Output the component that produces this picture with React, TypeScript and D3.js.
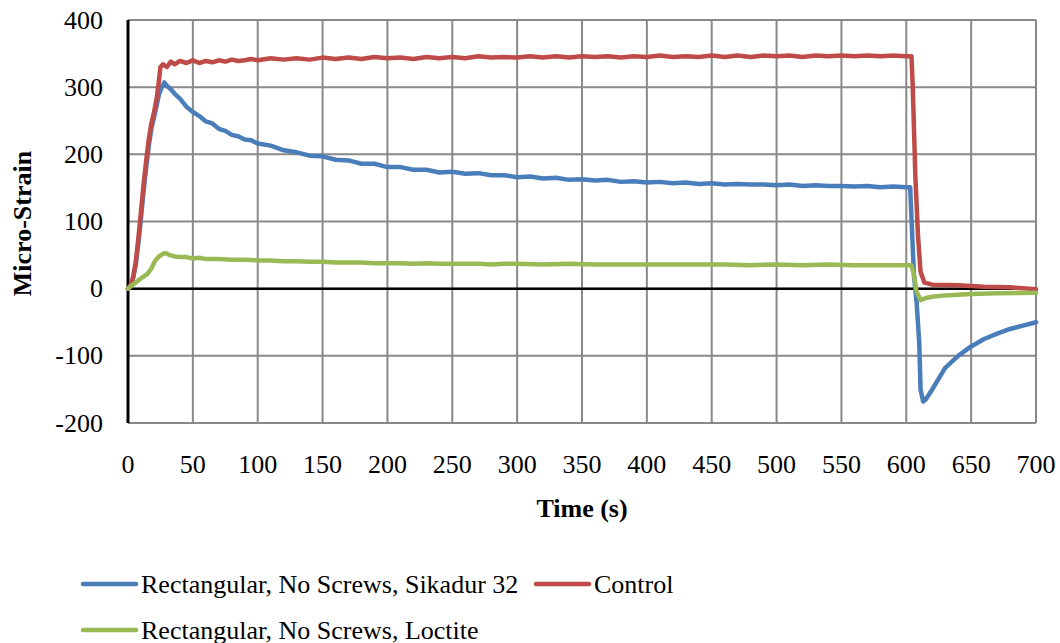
import React, { useEffect, useRef } from 'react';
import * as d3 from 'd3';

// [time (s), micro-strain]
const sikadur: [number, number][] = [
  [0, 0], [2, 4], [4, 16], [6, 36], [8, 68], [10, 105], [12, 145], [14, 180], [16, 212], [18, 238],
  [20, 255], [22, 272], [24, 290], [26, 300], [28, 307], [30, 302], [33, 297], [36, 290], [40, 283],
  [45, 271], [50, 263], [55, 257], [60, 249], [65, 246], [70, 238], [75, 235], [80, 229], [85, 227],
  [90, 222], [95, 221], [100, 216], [110, 213], [120, 206], [130, 203], [140, 198], [150, 197],
  [160, 192], [170, 191], [180, 186], [190, 186], [200, 181], [210, 181], [220, 177], [230, 177],
  [240, 173], [250, 174], [260, 171], [270, 172], [280, 169], [290, 169], [300, 166], [310, 167],
  [320, 164], [330, 165], [340, 162], [350, 163], [360, 161], [370, 162], [380, 159], [390, 160],
  [400, 158], [410, 159], [420, 157], [430, 158], [440, 156], [450, 157], [460, 155], [470, 156],
  [480, 155], [490, 155], [500, 154], [510, 155], [520, 153], [530, 154], [540, 153], [550, 153],
  [560, 152], [570, 153], [580, 151], [590, 152], [600, 151], [603, 151], [605, 60], [606, 18],
  [608, -21], [610, -81], [611, -150], [613, -168], [615, -165], [620, -150], [625, -134],
  [630, -118], [640, -100], [650, -86], [660, -75], [670, -67], [680, -60], [690, -55], [700, -50],
];

const control: [number, number][] = [
  [0, 0], [2, 5], [4, 18], [6, 40], [8, 75], [10, 115], [12, 155], [14, 190], [16, 222], [18, 246],
  [20, 262], [22, 282], [24, 312], [25, 330], [27, 334], [30, 330], [33, 338], [36, 334], [40, 339],
  [45, 336], [50, 340], [55, 336], [60, 339], [65, 337], [70, 340], [75, 338], [80, 341], [85, 339],
  [90, 340], [95, 342], [100, 340], [110, 343], [120, 341], [130, 343], [140, 341], [150, 344],
  [160, 342], [170, 344], [180, 342], [190, 345], [200, 343], [210, 344], [220, 342], [230, 345],
  [240, 343], [250, 345], [260, 343], [270, 346], [280, 344], [290, 345], [300, 344], [310, 346],
  [320, 344], [330, 346], [340, 344], [350, 346], [360, 345], [370, 346], [380, 344], [390, 346],
  [400, 345], [410, 347], [420, 345], [430, 346], [440, 345], [450, 347], [460, 345], [470, 347],
  [480, 345], [490, 347], [500, 346], [510, 347], [520, 345], [530, 347], [540, 346], [550, 347],
  [560, 346], [570, 347], [580, 346], [590, 347], [600, 346], [604, 346], [605, 300], [607, 167],
  [609, 80], [611, 25], [614, 9], [620, 6], [640, 5], [660, 3], [680, 2], [700, -1],
];

const loctite: [number, number][] = [
  [0, 0], [3, 5], [6, 9], [9, 14], [12, 18], [15, 22], [18, 30], [21, 42], [24, 48], [27, 52],
  [29, 53], [32, 50], [36, 48], [40, 47], [45, 47], [50, 45], [55, 46], [60, 44], [70, 44], [80, 43],
  [90, 43], [100, 42], [110, 42], [120, 41], [130, 41], [140, 40], [150, 40], [160, 39], [170, 39],
  [180, 39], [190, 38], [200, 38], [210, 38], [220, 37], [230, 38], [240, 37], [250, 37], [260, 37],
  [270, 37], [280, 36], [290, 37], [300, 37], [320, 36], [340, 37], [360, 36], [380, 36], [400, 36],
  [420, 36], [440, 36], [460, 36], [480, 35], [500, 36], [520, 35], [540, 36], [560, 35], [580, 35],
  [600, 35], [604, 35], [606, 20], [608, -5], [611, -17], [615, -14], [620, -12], [630, -10],
  [650, -8], [670, -7], [700, -6],
];

const seriesNames = ['Rectangular, No Screws, Sikadur 32', 'Control', 'Rectangular, No Screws, Loctite'];
const seriesColors = ['#4a7ebb', '#be4b48', '#98b954'];
const xTicks = d3.range(0, 701, 50);
const yTicks = [-200, -100, 0, 100, 200, 300, 400];

const App = () => {
  const svgRef = useRef(null);

  useEffect(() => {
    const width = 1060;
    const height = 643;
    const margin = { top: 20, right: 24, bottom: 220, left: 128 };
    const innerW = width - margin.left - margin.right;
    const innerH = height - margin.top - margin.bottom;

    const svgEl = d3.select(svgRef.current);
    svgEl.selectAll('*').remove();
    svgEl.attr('width', width).attr('height', height).style('background', '#fff');

    const svg = svgEl.append('g').attr('transform', `translate(${margin.left},${margin.top})`);

    const x = d3.scaleLinear().domain([0, 700]).range([0, innerW]);
    const y = d3.scaleLinear().domain([-200, 400]).range([innerH, 0]);

    // grid
    svg.selectAll('.vgrid')
      .data(xTicks.slice(1))
      .join('line')
      .attr('x1', d => x(d)).attr('x2', d => x(d))
      .attr('y1', 0).attr('y2', innerH)
      .attr('stroke', '#898989').attr('stroke-width', 2);

    svg.selectAll('.hgrid')
      .data(yTicks)
      .join('line')
      .attr('x1', 0).attr('x2', innerW)
      .attr('y1', d => y(d)).attr('y2', d => y(d))
      .attr('stroke', '#898989').attr('stroke-width', 2);

    // axes
    svg.append('line')
      .attr('x1', 0).attr('x2', 0).attr('y1', 0).attr('y2', innerH)
      .attr('stroke', '#000').attr('stroke-width', 3);
    svg.append('line')
      .attr('x1', 0).attr('x2', innerW).attr('y1', y(0)).attr('y2', y(0))
      .attr('stroke', '#000').attr('stroke-width', 2.5);

    svg.selectAll('.ylab')
      .data(yTicks)
      .join('text')
      .attr('x', -25).attr('y', d => y(d))
      .attr('dy', '0.33em')
      .attr('text-anchor', 'end')
      .style('font-size', '26px')
      .text(d => d);

    svg.selectAll('.xlab')
      .data(xTicks)
      .join('text')
      .attr('x', d => x(d)).attr('y', innerH + 50)
      .attr('text-anchor', 'middle')
      .style('font-size', '26px')
      .text(d => d);

    svg.append('text')
      .attr('x', innerW / 2).attr('y', innerH + 94)
      .attr('text-anchor', 'middle')
      .style('font-size', '26px').style('font-weight', 'bold')
      .text('Time (s)');

    svgEl.append('text')
      .attr('transform', `translate(31,${margin.top + y(100) + 2}) rotate(-90)`)
      .attr('text-anchor', 'middle')
      .style('font-size', '26px').style('font-weight', 'bold')
      .text('Micro-Strain');

    const lineGen = d3.line<[number, number]>()
      .x(d => x(d[0]))
      .y(d => y(d[1]));

    [sikadur, control, loctite].forEach((data, i) => {
      svg.append('path')
        .datum(data)
        .attr('fill', 'none')
        .attr('stroke', seriesColors[i])
        .attr('stroke-width', 4.5)
        .attr('stroke-linejoin', 'round')
        .attr('stroke-linecap', 'round')
        .attr('d', lineGen);
    });

    // legend
    const legendItems = [
      { x: 83, y: 584, i: 0 },
      { x: 536, y: 584, i: 1 },
      { x: 83, y: 630, i: 2 },
    ];
    legendItems.forEach(({ x: lx, y: ly, i }) => {
      svgEl.append('line')
        .attr('x1', lx).attr('x2', lx + 53).attr('y1', ly).attr('y2', ly)
        .attr('stroke', seriesColors[i]).attr('stroke-width', 4.5).attr('stroke-linecap', 'round');
      svgEl.append('text')
        .attr('x', lx + 58).attr('y', ly).attr('dy', '0.35em')
        .style('font-size', '26px')
        .text(seriesNames[i]);
    });
  }, []);

  return (
    <div style={{ position: 'absolute', left: 0, top: 0 }}>
      <svg ref={svgRef} style={{ display: 'block', fontFamily: 'Liberation Serif' }}></svg>
    </div>
  );
};

export default App;
